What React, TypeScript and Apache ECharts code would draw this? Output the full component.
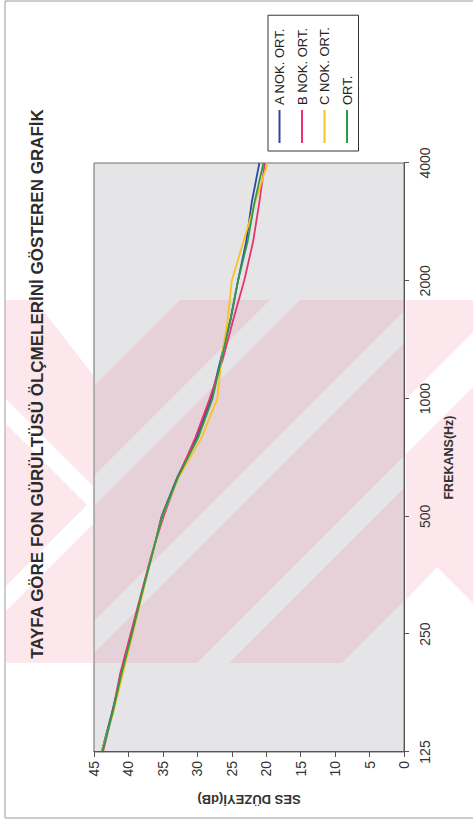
import React, { useEffect, useRef } from 'react';
import * as echarts from 'echarts';

// ---- data ----
const frequencies = ['125', '160', '200', '250', '315', '400', '500', '630', '800', '1000', '1250', '1600', '2000', '2500', '3150', '4000'];
const seriesNames = ['A NOK. ORT.', 'B NOK. ORT.', 'C NOK. ORT.', 'ORT.'];
const aValues = [43.9, 42.4, 41.0, 39.5, 38.1, 36.6, 35.2, 32.9, 30.1, 28.0, 26.6, 25.2, 24.1, 22.9, 22.1, 21.0];
const bValues = [43.7, 42.3, 41.2, 39.7, 38.2, 36.7, 34.9, 32.8, 30.3, 28.2, 26.3, 24.8, 23.2, 21.9, 21.0, 20.2];
const cValues = [43.9, 42.2, 40.8, 39.4, 38.0, 36.6, 35.1, 32.7, 29.4, 27.1, 26.5, 25.6, 25.0, 23.3, 21.6, 19.8];
const ortValues = [43.8, 42.3, 41.0, 39.5, 38.1, 36.6, 35.1, 32.8, 29.9, 27.8, 26.5, 25.2, 24.1, 22.7, 21.7, 20.4];
const valueMin = 0;
const valueMax = 45;
const valueStep = 5;
const titleText = 'TAYFA GÖRE FON GÜRÜLTÜSÜ ÖLÇMELERİNİ GÖSTEREN GRAFİK';
const xAxisName = 'FREKANS(Hz)';
const yAxisName = 'SES DÜZEYİ(dB)';
const colors = ['#34479a', '#e8336f', '#f6c420', '#2e9a4c'];

// ---- layout (page is 473 x 822; chart drawn 822 x 473 and rotated -90deg) ----
const PW = 473;
const PH = 822;
const FONT = 'Liberation Sans, Arial, sans-serif';
const PINK = 'rgba(236,110,140,0.17)';

type P = [number, number];
// page coords -> unrotated chart coords
const toU = (p: P): P => [PH - p[1], p[0]];

// keep points with a*x + b*y <= c
function clip(poly: P[], a: number, b: number, c: number): P[] {
  const out: P[] = [];
  for (let i = 0; i < poly.length; i++) {
    const cur = poly[i];
    const prev = poly[(i + poly.length - 1) % poly.length];
    const fc = a * cur[0] + b * cur[1] - c;
    const fp = a * prev[0] + b * prev[1] - c;
    if (fc <= 0) {
      if (fp > 0) {
        const t = fp / (fp - fc);
        out.push([prev[0] + t * (cur[0] - prev[0]), prev[1] + t * (cur[1] - prev[1])]);
      }
      out.push(cur);
    } else if (fp <= 0) {
      const t = fp / (fp - fc);
      out.push([prev[0] + t * (cur[0] - prev[0]), prev[1] + t * (cur[1] - prev[1])]);
    }
  }
  return out;
}
const rect = (x0: number, y0: number, x1: number, y1: number): P[] => [[x0, y0], [x1, y0], [x1, y1], [x0, y1]];
// band c1 <= x + y <= c2
const sumBand = (r: P[], c1: number, c2: number) => clip(clip(r, -1, -1, -c1), 1, 1, c2);
// band d1 <= y - x <= d2
const diffBand = (r: P[], d1: number, d2: number) => clip(clip(r, 1, -1, -d1), -1, 1, d2);

function poly(points: P[], fill: string, z2: number) {
  return {
    type: 'polygon',
    z: 1,
    z2,
    silent: true,
    shape: { points: points.map(toU) },
    style: { fill },
  };
}

function buildWatermark() {
  const els: any[] = [];
  const plotRect = rect(95, 300, 404, 663);
  [[480, 570], [600, 715], [747, 860], [892, 1005]].forEach(([c1, c2]) => {
    els.push(poly(sumBand(plotRect, c1, c2), PINK, 0));
  });
  const leftRect = rect(6, 300, 93, 663);
  els.push(poly(leftRect, PINK, 0));
  els.push(poly([[35, 300], [93, 300], [93, 375]], '#ffffff', 1));
  els.push(poly(diffBand(leftRect, 393, 418), '#ffffff', 1));
  els.push(poly(sumBand(leftRect, 592, 617), '#ffffff', 1));
  const rightRect = rect(406, 300, 473, 663);
  els.push(poly(rightRect, PINK, 0));
  els.push(poly(sumBand(rightRect, 805, 860), '#ffffff', 1));
  els.push(poly([[406, 600], [437, 567], [473, 603], [473, 663], [406, 663]], '#ffffff', 1));
  return els;
}

function frameLines() {
  const line = (a: P, b: P) => {
    const ua = toU(a);
    const ub = toU(b);
    return {
      type: 'line',
      z: 30,
      silent: true,
      shape: { x1: ua[0], y1: ua[1], x2: ub[0], y2: ub[1] },
      style: { stroke: '#9a9a9a', lineWidth: 1 },
    };
  };
  return [line([5, 1], [473, 1]), line([5, 1], [5, 818]), line([5, 818], [473, 818])];
}

const showEveryThird = (index: number) => index % 3 === 0;

export default function App() {
  const ref = useRef<HTMLDivElement>(null);

  useEffect(() => {
    if (!ref.current) return;
    const chart = echarts.init(ref.current, undefined, { renderer: 'svg', width: PH, height: PW });
    const values = [aValues, bValues, cValues, ortValues];
    chart.setOption({
      animation: false,
      backgroundColor: '#ffffff',
      textStyle: { fontFamily: FONT },
      grid: {
        left: 70,
        right: 163,
        top: 94,
        bottom: 69,
        show: true,
        backgroundColor: '#e5e5e7',
        borderColor: '#6e6e6e',
        borderWidth: 1,
        z: 0,
      },
      legend: {
        left: 671,
        top: 268,
        orient: 'vertical',
        padding: [5, 12, 5, 8],
        itemGap: 9.5,
        itemWidth: 33,
        itemHeight: 2,
        icon: 'rect',
        borderColor: '#333333',
        borderWidth: 1,
        backgroundColor: '#ffffff',
        textStyle: { fontSize: 13, color: '#222222', fontFamily: FONT },
        data: seriesNames,
      },
      xAxis: {
        type: 'category',
        data: frequencies,
        boundaryGap: false,
        z: 10,
        axisLine: { lineStyle: { color: '#555555', width: 1 } },
        axisTick: { interval: showEveryThird, length: 5, lineStyle: { color: '#555555' } },
        axisLabel: { interval: showEveryThird, fontSize: 14, color: '#333333', margin: 14, fontFamily: FONT },
        splitLine: { show: false },
        name: xAxisName,
        nameLocation: 'middle',
        nameGap: 38,
        nameTextStyle: { fontSize: 12.5, fontWeight: 'bold', color: '#333333', fontFamily: FONT },
      },
      yAxis: {
        type: 'value',
        min: valueMin,
        max: valueMax,
        interval: valueStep,
        z: 10,
        axisLine: { show: true, lineStyle: { color: '#555555', width: 1 } },
        axisTick: { show: true, length: 5, lineStyle: { color: '#555555' } },
        axisLabel: { fontSize: 14, color: '#333333', margin: 9, fontFamily: FONT },
        splitLine: { show: false },
        name: yAxisName,
        nameLocation: 'middle',
        nameRotate: 90,
        nameGap: 41,
        nameTextStyle: { fontSize: 13, fontWeight: 'bold', color: '#333333', fontFamily: FONT },
      },
      series: seriesNames.map((name, i) => ({
        name,
        type: 'line',
        data: values[i],
        symbol: 'none',
        z: 5,
        lineStyle: { color: colors[i], width: 1.8 },
        itemStyle: { color: colors[i] },
      })),
      graphic: {
        elements: [
          ...buildWatermark(),
          ...frameLines(),
          {
            type: 'text',
            z: 30,
            x: 438,
            y: 37,
            style: {
              text: titleText,
              fontSize: 17,
              fontWeight: 'bold',
              fontFamily: FONT,
              fill: '#2b2b2b',
              align: 'center',
              verticalAlign: 'middle',
            },
          },
        ],
      },
    });
    return () => chart.dispose();
  }, []);

  return (
    <div style={{ position: 'fixed', left: 0, top: 0, width: PW, height: PH, overflow: 'hidden', background: '#fff' }}>
      <div
        ref={ref}
        style={{
          position: 'absolute',
          left: 0,
          top: 0,
          width: PH,
          height: PW,
          transformOrigin: '0 0',
          transform: `translate(0px, ${PH}px) rotate(-90deg)`,
        }}
      />
    </div>
  );
}
